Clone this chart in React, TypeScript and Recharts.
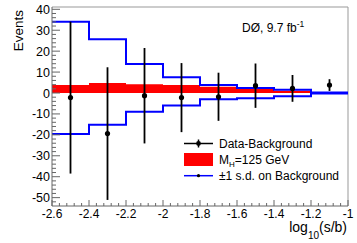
import { ComposedChart, XAxis, YAxis, Line, Area, Scatter, ErrorBar, ReferenceLine } from 'recharts';

// log10(s/b) bins
const binEdges = [-2.6, -2.4, -2.2, -2.0, -1.8, -1.6, -1.4, -1.2, -1.0];
const binCenters = [-2.5, -2.3, -2.1, -1.9, -1.7, -1.5, -1.3, -1.1];

// data - background with errors
const dataMinusBkg = [-2.2, -19.4, -1.3, -2.2, -1.8, 3.5, 2.2, 3.8];
const dataErr = [36.3, 31.7, 22.8, 16.5, 11.5, 10.6, 6.4, 2.8];

// MH=125 GeV signal
const signal = [3.8, 4.8, 4.2, 3.8, 3.0, 2.2, 1.1, 0.2];

// +-1 s.d. on background
const bkgUp = [34.1, 25.7, 13.9, 7.5, 3.8, 2.4, 1.5, 0.2];
const bkgDown = [-19.6, -15.2, -8.9, -6.0, -3.0, -2.5, -1.5, -0.2];

const xMajorTicks = [-2.6, -2.4, -2.2, -2.0, -1.8, -1.6, -1.4, -1.2, -1.0];
const yMajorTicks = [-50, -40, -30, -20, -10, 0, 10, 20, 30, 40];

const X_DOMAIN: [number, number] = [-2.6, -1.0];
const Y_DOMAIN: [number, number] = [-54, 41.1];

const FONT = '"Liberation Sans", Arial, Helvetica, sans-serif';
const AXIS = '#666';

// 5 minor divisions per major step (ROOT style 510)
const xTicks: number[] = [];
for (let i = 0; i < xMajorTicks.length - 1; i++) {
  const step = (xMajorTicks[i + 1] - xMajorTicks[i]) / 5;
  for (let k = 0; k < 5; k++) xTicks.push(Math.round((xMajorTicks[i] + k * step) * 1000) / 1000);
}
xTicks.push(xMajorTicks[xMajorTicks.length - 1]);

const yTicks: number[] = [-52];
for (let i = 0; i < yMajorTicks.length; i++) {
  yTicks.push(yMajorTicks[i]);
  if (i < yMajorTicks.length - 1) for (let k = 1; k < 5; k++) yTicks.push(yMajorTicks[i] + k * 2);
}

const edgeRows = binEdges.map((x, i) => {
  const j = Math.min(i, signal.length - 1);
  return { x, sig: signal[j], up: bkgUp[j], down: bkgDown[j] };
});

const pointRows = binCenters.map((x, i) => ({ x, y: dataMinusBkg[i], err: dataErr[i] }));

function fmtX(v: number) {
  if (Math.abs(v - Math.round(v)) < 1e-6) return String(Math.round(v));
  return v.toFixed(1);
}

// ticks drawn inside the frame, ROOT style
function XTick({ x, y, payload }: any) {
  const v = payload.value;
  const major = xMajorTicks.some((m) => Math.abs(m - v) < 1e-6);
  return (
    <g>
      <line x1={x} x2={x} y1={y} y2={y - (major ? 6 : 3)} stroke={AXIS} />
      {major && (
        <text x={x} y={y + 12} textAnchor="middle" fontSize={12} fontFamily={FONT} fill="#000">
          {fmtX(v)}
        </text>
      )}
    </g>
  );
}

function YTick({ x, y, payload }: any) {
  const v = payload.value;
  const major = yMajorTicks.includes(v);
  return (
    <g>
      <line x1={x} x2={x + (major ? 8 : 4)} y1={y} y2={y} stroke={AXIS} />
      {major && (
        <text x={x - 2} y={y + 4.5} textAnchor="end" fontSize={12.5} fontFamily={FONT} fill="#000">
          {v}
        </text>
      )}
    </g>
  );
}

export default function App() {
  return (
    <div style={{ position: 'absolute', left: 0, top: 0, width: 357, height: 243, background: '#fff' }}>
      <ComposedChart width={357} height={243} margin={{ top: 7, right: 9, bottom: 7, left: 12 }}>
        <XAxis
          dataKey="x"
          type="number"
          domain={X_DOMAIN}
          allowDataOverflow
          ticks={xTicks}
          interval={0}
          height={30}
          tickSize={0}
          tickMargin={0}
          tickLine={false}
          tick={<XTick />}
          stroke={AXIS}
        />
        <YAxis
          type="number"
          domain={Y_DOMAIN}
          allowDataOverflow
          ticks={yTicks}
          interval={0}
          width={40}
          tickSize={0}
          tickMargin={0}
          tickLine={false}
          tick={<YTick />}
          stroke={AXIS}
        />
        <ReferenceLine y={Y_DOMAIN[1]} stroke="#999" />
        <ReferenceLine x={X_DOMAIN[1]} stroke="#999" />
        <Area
          data={edgeRows}
          dataKey="sig"
          type="stepAfter"
          fill="#ff0000"
          fillOpacity={1}
          stroke="none"
          baseValue={0}
          isAnimationActive={false}
        />
        <Line data={edgeRows} dataKey="up" type="stepAfter" stroke="#0000ff" strokeWidth={2} dot={false} isAnimationActive={false} />
        <Line data={edgeRows} dataKey="down" type="stepAfter" stroke="#0000ff" strokeWidth={2} dot={false} isAnimationActive={false} />
        <Scatter
          data={pointRows}
          dataKey="y"
          fill="#000"
          isAnimationActive={false}
          shape={(p: any) => <circle cx={p.cx} cy={p.cy} r={2.6} fill="#000" />}
        >
          <ErrorBar dataKey="err" direction="y" width={0} stroke="#000" strokeWidth={1.8} isAnimationActive={false} />
        </Scatter>
      </ComposedChart>

      <svg width={357} height={243} style={{ position: 'absolute', left: 0, top: 0, pointerEvents: 'none' }} fontFamily={FONT}>
        <text x={242} y={32} fontSize={12}>
          DØ, 9.7 fb<tspan fontSize={8.5} dy={-5}>-1</tspan>
        </text>
        <text transform="translate(23,10) rotate(-90)" textAnchor="end" fontSize={13.5}>
          Events
        </text>
        <text x={347} y={232} textAnchor="end" fontSize={14}>
          log<tspan fontSize={10} dy={7}>10</tspan>
          <tspan dy={-7}>(s/b)</tspan>
        </text>

        {/* legend */}
        <line x1={184} x2={213} y1={143.5} y2={143.5} stroke="#000" strokeWidth={1.5} />
        <line x1={198.5} x2={198.5} y1={139.5} y2={147.5} stroke="#000" strokeWidth={1.5} />
        <circle cx={198.5} cy={143.5} r={2.4} fill="#000" />
        <text x={219} y={147.8} fontSize={12}>Data-Background</text>

        <rect x={184} y={153} width={29} height={13} fill="#ff0000" />
        <text x={219} y={163.8} fontSize={12}>
          M<tspan fontSize={8} dy={3}>H</tspan>
          <tspan dy={-3}>=125 GeV</tspan>
        </text>

        <line x1={184} x2={213} y1={175.7} y2={175.7} stroke="#0000ff" strokeWidth={1.5} />
        <circle cx={198.5} cy={175.7} r={1.6} fill="#000" />
        <text x={219} y={180} fontSize={12}>±1 s.d. on Background</text>
      </svg>
    </div>
  );
}
